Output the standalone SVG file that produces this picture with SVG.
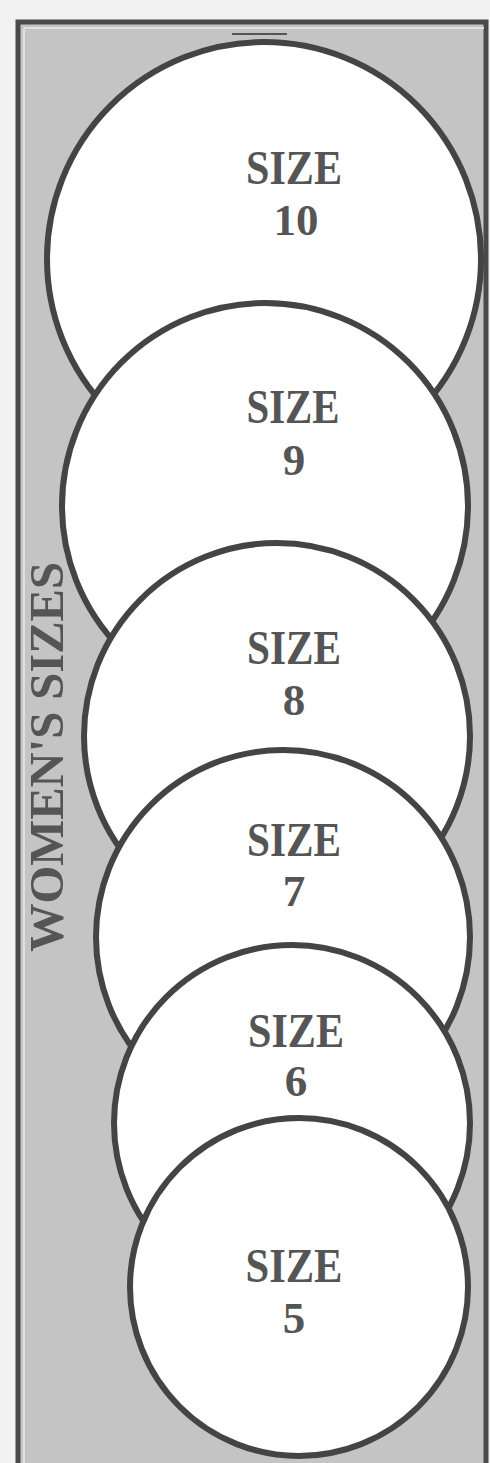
<svg xmlns="http://www.w3.org/2000/svg" width="490" height="1463" viewBox="0 0 490 1463">
<style>
.c{fill:#ffffff;stroke:#444444;stroke-width:6}
.t{font-family:"Liberation Serif","Times New Roman",serif;font-weight:bold;fill:#555555;text-anchor:middle}
.s{font-size:49px}
.n{font-size:45px}
</style>
<rect x="0" y="0" width="490" height="1463" fill="#f2f2f2"/>
<g id="frame">
<rect x="18" y="22" width="468" height="1445" fill="#c4c4c4" stroke="#4a4a4a" stroke-width="5"/>
<line x1="24" y1="28" x2="24" y2="1463" stroke="#e0e0e0" stroke-width="2"/>
<line x1="24" y1="28" x2="484" y2="28" stroke="#e0e0e0" stroke-width="2"/>
<line x1="232" y1="34" x2="287" y2="34" stroke="#555555" stroke-width="2"/>
</g>
<g id="label">
<text class="t" transform="translate(63,757) rotate(-90)" font-size="49" textLength="390" lengthAdjust="spacingAndGlyphs">WOMEN'S SIZES</text>
</g>
<g id="size10">
<circle class="c" cx="264" cy="259" r="217"/>
<text class="t s" x="294" y="184" textLength="96" lengthAdjust="spacingAndGlyphs">SIZE</text>
<text class="t n" x="296" y="235">10</text>
</g>
<g id="size9">
<circle class="c" cx="265" cy="506" r="203"/>
<text class="t s" x="293" y="423" textLength="93" lengthAdjust="spacingAndGlyphs">SIZE</text>
<text class="t n" x="294" y="475">9</text>
</g>
<g id="size8">
<circle class="c" cx="277" cy="736" r="193"/>
<text class="t s" x="294" y="664" textLength="94" lengthAdjust="spacingAndGlyphs">SIZE</text>
<text class="t n" x="294" y="715">8</text>
</g>
<g id="size7">
<circle class="c" cx="283" cy="937" r="187"/>
<text class="t s" x="294" y="856" textLength="94" lengthAdjust="spacingAndGlyphs">SIZE</text>
<text class="t n" x="294" y="906">7</text>
</g>
<g id="size6">
<circle class="c" cx="292" cy="1123" r="178"/>
<text class="t s" x="296" y="1047" textLength="96" lengthAdjust="spacingAndGlyphs">SIZE</text>
<text class="t n" x="296" y="1096">6</text>
</g>
<g id="size5">
<circle class="c" cx="299" cy="1287" r="169"/>
<text class="t s" x="294" y="1282" textLength="97" lengthAdjust="spacingAndGlyphs">SIZE</text>
<text class="t n" x="294" y="1333">5</text>
</g>
</svg>
